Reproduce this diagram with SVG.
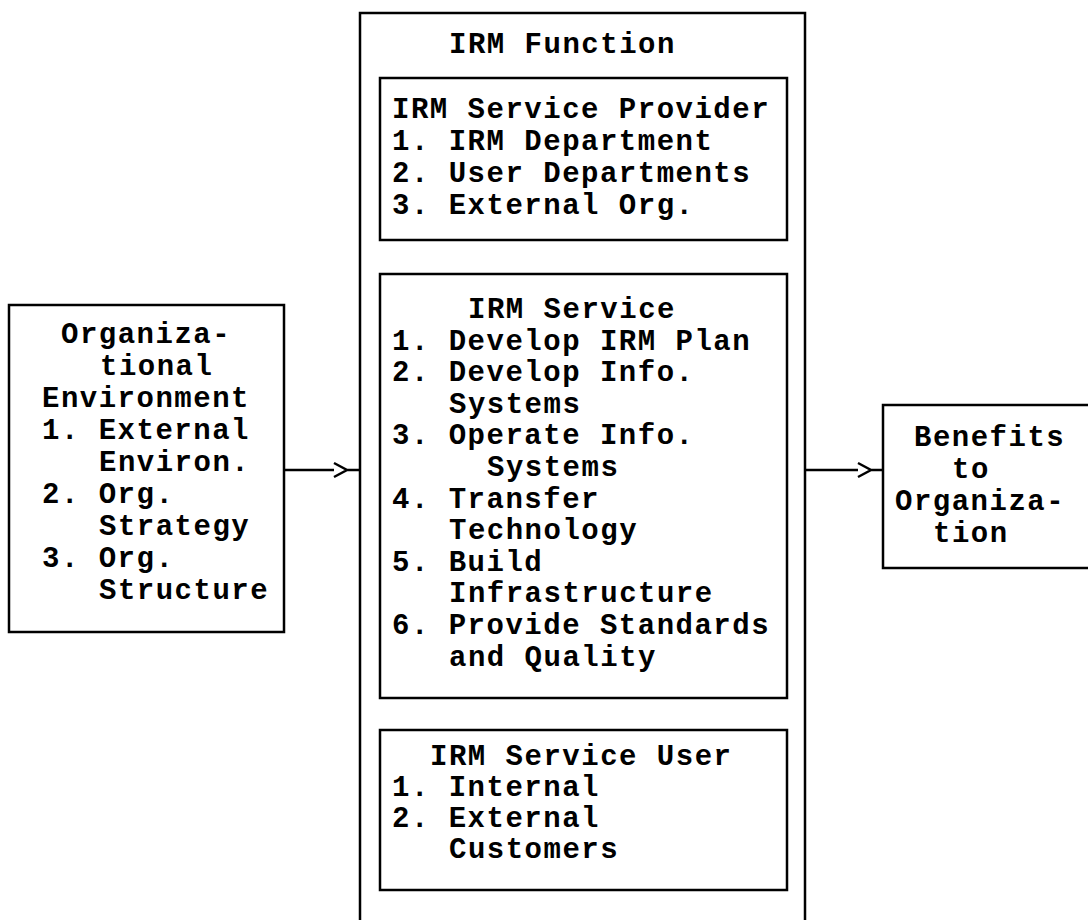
<svg xmlns="http://www.w3.org/2000/svg" width="1088" height="920" viewBox="0 0 1088 920">
<style>
.box{fill:none;stroke:#000;stroke-width:2.5}
.t{font-family:"Liberation Mono","Courier New",monospace;font-size:29px;letter-spacing:1.5px;font-weight:bold;fill:#000}
.c{fill:none;stroke:#000;stroke-width:2.5}
</style>
<rect x="0" y="0" width="1088" height="920" fill="#fff"/>
<g id="org-env">
<rect class="box" x="9" y="305" width="275" height="327"/>
<text class="t" x="61" y="343">Organiza-</text>
<text class="t" x="100" y="375">tional</text>
<text class="t" x="42" y="407">Environment</text>
<text class="t" x="42" y="439">1. External</text>
<text class="t" x="99" y="471">Environ.</text>
<text class="t" x="42" y="503">2. Org.</text>
<text class="t" x="99" y="535">Strategy</text>
<text class="t" x="42" y="567">3. Org.</text>
<text class="t" x="99" y="599">Structure</text>
</g>
<g id="irm-function">
<rect class="box" x="360" y="13" width="445" height="920"/>
<text class="t" x="449" y="53">IRM Function</text>
</g>
<g id="irm-provider">
<rect class="box" x="380" y="78" width="407" height="162"/>
<text class="t" x="392" y="118">IRM Service Provider</text>
<text class="t" x="392" y="150">1. IRM Department</text>
<text class="t" x="392" y="182">2. User Departments</text>
<text class="t" x="392" y="214">3. External Org.</text>
</g>
<g id="irm-service">
<rect class="box" x="380" y="274" width="407" height="424"/>
<text class="t" x="468" y="318">IRM Service</text>
<text class="t" x="392" y="350">1. Develop IRM Plan</text>
<text class="t" x="392" y="381">2. Develop Info.</text>
<text class="t" x="449" y="413">Systems</text>
<text class="t" x="392" y="444">3. Operate Info.</text>
<text class="t" x="487" y="476">Systems</text>
<text class="t" x="392" y="508">4. Transfer</text>
<text class="t" x="449" y="539">Technology</text>
<text class="t" x="392" y="571">5. Build</text>
<text class="t" x="449" y="602">Infrastructure</text>
<text class="t" x="392" y="634">6. Provide Standards</text>
<text class="t" x="449" y="666">and Quality</text>
</g>
<g id="irm-user">
<rect class="box" x="380" y="730" width="407" height="160"/>
<text class="t" x="430" y="765">IRM Service User</text>
<text class="t" x="392" y="796">1. Internal</text>
<text class="t" x="392" y="827">2. External</text>
<text class="t" x="449" y="858">Customers</text>
</g>
<g id="benefits">
<rect class="box" x="883" y="405" width="215" height="163"/>
<text class="t" x="914" y="446">Benefits</text>
<text class="t" x="952" y="478">to</text>
<text class="t" x="895" y="510">Organiza-</text>
<text class="t" x="933" y="542">tion</text>
</g>
<g id="connectors">
<path class="c" d="M284 470H334M334 463L347 470L334 477M347 470H360"/>
<path class="c" d="M805 470H858M858 463L871 470L858 477M871 470H883"/>
</g>
</svg>
